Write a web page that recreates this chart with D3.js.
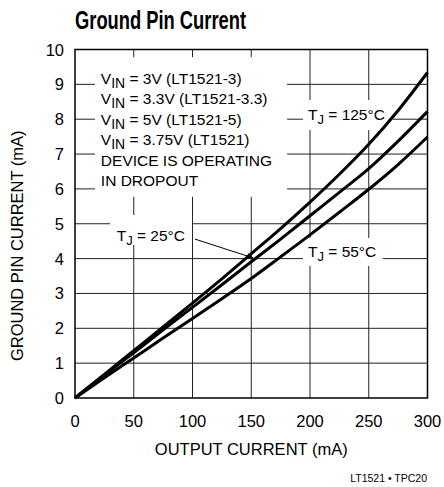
<!DOCTYPE html>
<html>
<head>
<meta charset="utf-8">
<script src="https://cdn.jsdelivr.net/npm/d3@7"></script>
<style>
  html, body { margin: 0; padding: 0; background: #fff; }
  svg { display: block; }
  text { font-family: "Liberation Sans", Arial, Helvetica, sans-serif; fill: #000; }
</style>
</head>
<body>
<svg id="chart" width="444" height="487"></svg>
<script>
// ---- data ----
const outputCurrent = [0, 25, 50, 75, 100, 125, 150, 175, 200, 225, 250, 275, 300];
const tj125 = [0, 0.68, 1.36, 2.04, 2.72, 3.42, 4.14, 4.86, 5.62, 6.42, 7.28, 8.25, 9.34];
const tj25  = [0, 0.66, 1.30, 1.96, 2.60, 3.25, 3.91, 4.56, 5.23, 5.90, 6.58, 7.37, 8.22];
const tj55  = [0, 0.58, 1.15, 1.72, 2.28, 2.85, 3.43, 4.05, 4.68, 5.33, 5.99, 6.70, 7.49];
const xTicks = [0, 50, 100, 150, 200, 250, 300];
const yTicks = [0, 1, 2, 3, 4, 5, 6, 7, 8, 9, 10];
const seriesList = [tj125, tj25, tj55];
const conditionLines = [
  ["V", "IN", " = 3V (LT1521-3)"],
  ["V", "IN", " = 3.3V (LT1521-3.3)"],
  ["V", "IN", " = 5V (LT1521-5)"],
  ["V", "IN", " = 3.75V (LT1521)"],
  ["DEVICE IS OPERATING", "", ""],
  ["IN DROPOUT", "", ""]
];
const titleText = "Ground Pin Current";
const xTitle = "OUTPUT CURRENT (mA)";
const yTitle = "GROUND PIN CURRENT (mA)";
const footer = "LT1521 \u2022 TPC20";

// ---- layout ----
const svg = d3.select("#chart");
const x = d3.scaleLinear().domain([0, 300]).range([75, 427.5]);
const y = d3.scaleLinear().domain([0, 10]).range([398, 49.5]);

// gridlines
const grid = svg.append("g").attr("stroke", "#222").attr("stroke-width", 1);
grid.selectAll("line.h").data(yTicks.slice(1, -1)).join("line")
  .attr("x1", x(0)).attr("x2", x(300))
  .attr("y1", d => y(d)).attr("y2", d => y(d));
grid.selectAll("line.v").data(xTicks.slice(1, -1)).join("line")
  .attr("y1", y(0)).attr("y2", y(10))
  .attr("x1", d => x(d)).attr("x2", d => x(d));

// white label backgrounds (in data units)
const boxes = [
  [17, 180.5, 9.78, 5.77],
  [194, 270.6, 8.55, 7.69],
  [29.8, 99.6, 5.25, 4.39],
  [194, 262, 4.59, 3.79]
];
svg.append("g").selectAll("rect").data(boxes).join("rect")
  .attr("x", d => x(d[0])).attr("width", d => x(d[1]) - x(d[0]))
  .attr("y", d => y(d[2])).attr("height", d => y(d[3]) - y(d[2]))
  .attr("fill", "#fff");

// frame
svg.append("rect")
  .attr("x", x(0)).attr("y", y(10))
  .attr("width", x(300) - x(0)).attr("height", y(0) - y(10))
  .attr("fill", "none").attr("stroke", "#000").attr("stroke-width", 1.5);

// curves
const line = d3.line()
  .x((d, i) => x(outputCurrent[i]))
  .y(d => y(d))
  .curve(d3.curveMonotoneX);
svg.append("g").selectAll("path").data(seriesList).join("path")
  .attr("d", line)
  .attr("fill", "none").attr("stroke", "#000").attr("stroke-width", 3)
  .attr("stroke-linejoin", "round");

// axis tick labels
svg.append("g").selectAll("text").data(yTicks).join("text")
  .attr("x", x(0) - 11).attr("y", d => y(d) + 6)
  .attr("text-anchor", "end").attr("font-size", 16.5)
  .text(d => d);
svg.append("g").selectAll("text").data(xTicks).join("text")
  .attr("x", d => x(d)).attr("y", 426.5)
  .attr("text-anchor", "middle").attr("font-size", 16.5)
  .text(d => d);

// axis titles
svg.append("text").attr("x", (x(0) + x(300)) / 2).attr("y", 454.5)
  .attr("text-anchor", "middle").attr("font-size", 16.5).text(xTitle);
svg.append("text").attr("transform", `translate(22.5,${(y(0) + y(10)) / 2 + 22}) rotate(-90)`)
  .attr("text-anchor", "middle").attr("font-size", 16.5).text(yTitle);

// title
svg.append("text").attr("x", 75).attr("y", 28.5)
  .attr("font-family", "'Liberation Sans Narrow', 'Arial Narrow', 'DejaVu Sans Condensed', sans-serif")
  .attr("font-weight", "bold").attr("font-size", 26)
  .attr("textLength", 171).attr("lengthAdjust", "spacingAndGlyphs")
  .text(titleText);

// condition text block
const cond = svg.append("g");
conditionLines.forEach((parts, i) => {
  const t = cond.append("text")
    .attr("x", x(22)).attr("y", y(9.02) + i * 20.5)
    .attr("font-size", 15.5);
  t.append("tspan").text(parts[0]);
  if (parts[1]) {
    t.append("tspan").attr("font-size", 14).attr("dy", 4).text(parts[1]);
    t.append("tspan").attr("dy", -4).text(parts[2]);
  }
});

// temperature labels
function tjLabel(xv, yv, temp) {
  const t = svg.append("text").attr("x", x(xv)).attr("y", y(yv)).attr("font-size", 15.5);
  t.append("tspan").text("T");
  t.append("tspan").attr("font-size", 13).attr("dy", 4).text("J");
  t.append("tspan").attr("dy", -4).text(" = " + temp + "\u00B0C");
}
tjLabel(198.3, 7.98, 125);
tjLabel(35.5, 4.5, 25);
tjLabel(198.3, 4.05, 55);

// arrow for 25°C
svg.append("defs").append("marker")
  .attr("id", "ah").attr("viewBox", "0 0 10 10").attr("refX", 10).attr("refY", 5)
  .attr("markerWidth", 12).attr("markerHeight", 6).attr("markerUnits", "userSpaceOnUse")
  .attr("orient", "auto")
  .append("path").attr("d", "M0,0 L10,5 L0,10 Z").attr("fill", "#000");
svg.append("line")
  .attr("x1", x(102.1)).attr("y1", y(4.56))
  .attr("x2", x(151.5)).attr("y2", y(4.02))
  .attr("stroke", "#000").attr("stroke-width", 1)
  .attr("marker-end", "url(#ah)");

// footer
svg.append("text").attr("x", 427).attr("y", 482)
  .attr("text-anchor", "end").attr("font-size", 10.5)
  .attr("font-family", "'Liberation Sans Narrow', 'Arial Narrow', sans-serif")
  .text(footer);
</script>
</body>
</html>
